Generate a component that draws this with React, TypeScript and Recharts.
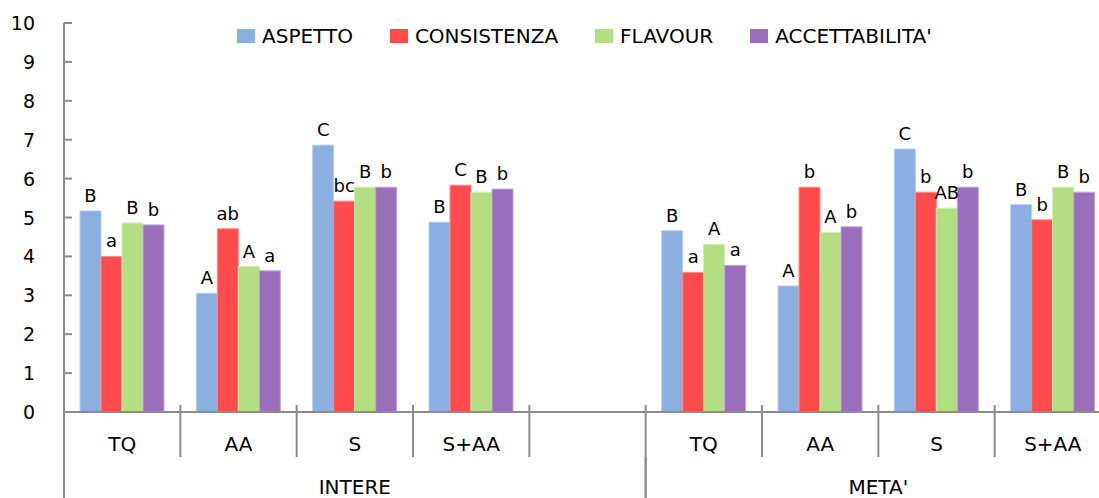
import { BarChart, Bar, XAxis, YAxis, Legend, LabelList } from 'recharts';

const categories = ['TQ', 'AA', 'S', 'S+AA', '', 'TQ', 'AA', 'S', 'S+AA'];
const groups = [
  { name: 'INTERE', start: 0, size: 5 },
  { name: "META'", start: 5, size: 4 },
];

const aspetto = [5.17, 3.05, 6.86, 4.88, null, 4.66, 3.24, 6.76, 5.33];
const consistenza = [4.0, 4.71, 5.42, 5.83, null, 3.59, 5.78, 5.65, 4.94];
const flavour = [4.86, 3.74, 5.78, 5.65, null, 4.31, 4.62, 5.24, 5.78];
const accettabilita = [4.81, 3.63, 5.78, 5.73, null, 3.77, 4.76, 5.78, 5.65];

// significance letters shown above the bars
const aspettoSig = ['B', 'A', 'C', 'B', '', 'B', 'A', 'C', 'B'];
const consistenzaSig = ['a', 'ab', 'bc', 'C', '', 'a', 'b', 'b', 'b'];
const flavourSig = ['B', 'A', 'B', 'B', '', 'A', 'A', 'AB', 'B'];
const accettabilitaSig = ['b', 'a', 'b', 'b', '', 'a', 'b', 'b', 'b'];

const yTicks = [0, 1, 2, 3, 4, 5, 6, 7, 8, 9, 10];

const series = [
  { key: 'aspetto', name: 'ASPETTO', color: '#8AAFE0', edge: '#B8CFEE' },
  { key: 'consistenza', name: 'CONSISTENZA', color: '#FF4B4B', edge: '#FF8A8A' },
  { key: 'flavour', name: 'FLAVOUR', color: '#B3DE82', edge: '#D2EDB3' },
  { key: 'accettabilita', name: "ACCETTABILITA'", color: '#9A6EBB', edge: '#C2A6D8' },
];

const data = categories.map((cat, i) => ({
  id: `c${i}`,
  cat,
  aspetto: aspetto[i],
  consistenza: consistenza[i],
  flavour: flavour[i],
  accettabilita: accettabilita[i],
  aspettoSig: aspettoSig[i],
  consistenzaSig: consistenzaSig[i],
  flavourSig: flavourSig[i],
  accettabilitaSig: accettabilitaSig[i],
}));

const FONT = '"DejaVu Sans", Verdana, sans-serif';
const AXIS = '#8C8C8C';
const CHART_W = 1111;
const CHART_H = 498;
const Y_W = 64;
const BAND = (CHART_W - Y_W) / categories.length;

const YTick = ({ x, y, payload }: any) => (
  <g>
    <line x1={x} x2={x + 8} y1={y} y2={y} stroke={AXIS} strokeWidth={2} />
    <text x={x - 29} y={y + 7} textAnchor="end" fontFamily={FONT} fontSize={19} fill="#000">
      {payload.value}
    </text>
  </g>
);

const CatTick = ({ x, y, index }: any) => (
  <g>
    <line x1={x - BAND / 2} x2={x - BAND / 2} y1={y - 7} y2={y + 45} stroke={AXIS} strokeWidth={2} />
    {index === categories.length - 1 && (
      <line x1={x + BAND / 2} x2={x + BAND / 2} y1={y - 7} y2={y + 45} stroke={AXIS} strokeWidth={2} />
    )}
    <text x={x} y={y + 39} textAnchor="middle" fontFamily={FONT} fontSize={20} fill="#000">
      {categories[index]}
    </text>
  </g>
);

const GroupTick = ({ x, y, index }: any) => {
  const g = groups.find((gr) => gr.start === index);
  if (!g) return null;
  const left = x - BAND / 2;
  return (
    <g>
      <line x1={left} x2={left} y1={y} y2={y + 45} stroke={AXIS} strokeWidth={2} />
      <line x1={left + g.size * BAND} x2={left + g.size * BAND} y1={y} y2={y + 45} stroke={AXIS} strokeWidth={2} />
      <text x={left + (g.size * BAND) / 2} y={y + 37} textAnchor="middle" fontFamily={FONT} fontSize={20} fill="#000">
        {g.name}
      </text>
    </g>
  );
};

const renderLegend = () => (
  <div style={{ display: 'flex', alignItems: 'center', fontFamily: FONT, fontSize: 20, color: '#000', whiteSpace: 'nowrap' }}>
    {series.map((s) => (
      <div key={s.key} style={{ display: 'flex', alignItems: 'center', marginRight: 37 }}>
        <span style={{ display: 'inline-block', width: 18, height: 14, background: s.color, marginRight: 7 }} />
        <span>{s.name}</span>
      </div>
    ))}
  </div>
);

export default function App() {
  return (
    <div style={{ position: 'absolute', left: 0, top: 0, width: 1099, height: 498, overflow: 'hidden', background: '#fff' }}>
      <BarChart
        width={CHART_W}
        height={CHART_H}
        data={data}
        margin={{ top: 23, right: 0, bottom: 0, left: 0 }}
        barCategoryGap={16}
        barGap={0}
      >
        <YAxis
          width={Y_W}
          domain={[0, 10]}
          ticks={yTicks}
          interval={0}
          tickSize={0}
          tickMargin={0}
          tickLine={false}
          axisLine={{ stroke: AXIS, strokeWidth: 2 }}
          tick={<YTick />}
        />
        <XAxis
          dataKey="id"
          height={45}
          interval={0}
          tickSize={0}
          tickMargin={0}
          tickLine={false}
          axisLine={{ stroke: AXIS, strokeWidth: 2 }}
          tick={<CatTick />}
        />
        <XAxis
          xAxisId="grp"
          dataKey="id"
          height={41}
          interval={0}
          tickSize={0}
          tickMargin={0}
          tickLine={false}
          axisLine={false}
          tick={<GroupTick />}
        />
        <Legend
          verticalAlign="middle"
          align="center"
          content={renderLegend}
          wrapperStyle={{ top: 24, left: 237, width: 'auto' }}
        />
        {series.map((s) => (
          <Bar
            key={s.key}
            dataKey={s.key}
            name={s.name}
            fill={s.color}
            stroke={s.edge}
            strokeWidth={1}
            isAnimationActive={false}
          >
            <LabelList dataKey={`${s.key}Sig`} position="top" offset={9} fontFamily={FONT} fontSize={18} fill="#000" />
          </Bar>
        ))}
      </BarChart>
    </div>
  );
}
